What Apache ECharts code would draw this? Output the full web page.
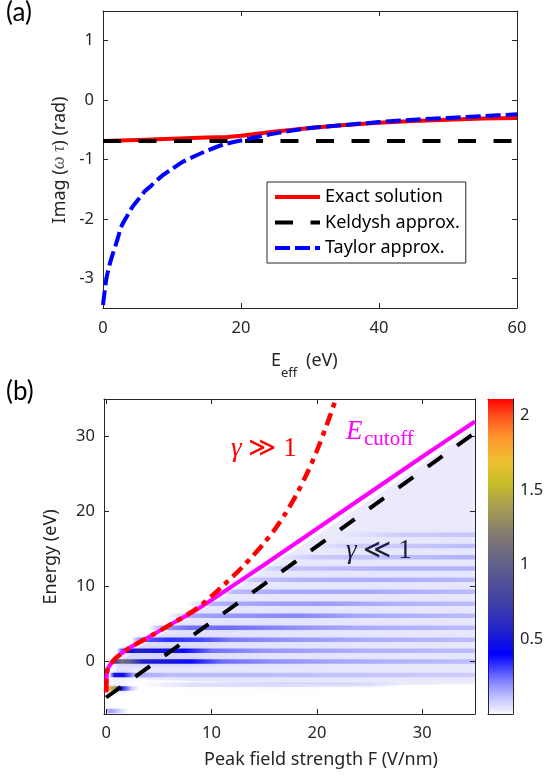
<!DOCTYPE html>
<html><head><meta charset="utf-8">
<script src="https://cdn.jsdelivr.net/npm/echarts@6/dist/echarts.min.js"></script>
<style>html,body{margin:0;padding:0;background:#fff}#c{width:549px;height:778px}</style>
</head><body><div id="c"></div><script>
// ---------------- Panel (a) data ----------------
const aTicksX = [0, 20, 40, 60];
const aTicksY = [-3, -2, -1, 0, 1];
const exactE = [0, 5, 10, 15, 18, 20, 25, 30, 35, 40, 45, 50, 55, 60];
const exactV = [-0.69, -0.67, -0.65, -0.63, -0.62, -0.60, -0.53, -0.47, -0.42, -0.38, -0.35, -0.33, -0.31, -0.30];
const keldyshE = [0, 60];
const keldyshV = [-0.69, -0.69];
const taylorE = [0, 0.5, 1, 1.5, 2, 2.7, 3.5, 4.2, 5, 6.1, 7, 8.5, 10, 11.4, 14.3, 17.4, 20, 25, 30, 35, 40, 45, 50, 55, 60];
const taylorV = [-3.45, -3.0, -2.75, -2.56, -2.38, -2.12, -1.95, -1.81, -1.69, -1.53, -1.44, -1.28, -1.16, -1.05, -0.89, -0.75, -0.68, -0.56, -0.47, -0.42, -0.37, -0.33, -0.30, -0.27, -0.24];

// ---------------- Panel (b) data ----------------
const bTicksX = [0, 10, 20, 30];
const bTicksY = [0, 10, 20, 30];
const cutoffF = [0, 0.02, 0.05, 0.15, 0.4, 0.8, 1.4, 2.2, 3.2, 4.6, 6.2, 8, 10, 15, 20, 25, 30, 35];
const cutoffE = [-4.1, -3, -2, -1, -0.4, 0.3, 1.0, 1.8, 2.6, 3.7, 5.0, 6.4, 8.2, 12.9, 17.7, 22.5, 27.3, 32.0];
const bigGammaF = [0, 0.02, 0.05, 0.15, 0.4, 0.8, 1.4, 2.2, 3.2, 4.6, 6.2, 8, 9, 10, 11, 12, 13, 14, 15, 16, 17, 18, 19, 20, 21, 21.8];
const bigGammaE = [-4.1, -3, -2, -1, -0.4, 0.3, 1.0, 1.8, 2.6, 3.7, 5.0, 6.5, 7.5, 8.7, 10.0, 11.3, 12.7, 14.2, 15.8, 17.6, 19.7, 22.1, 24.9, 28.1, 31.8, 35];
const smallGammaF = [0, 35];
const smallGammaE = [-4.8, 30.5];
// spectrogram fringes: [energy, F, value, F, value, ...]
const streaks = [
  [-6.6, 0, 0.12, 0.5, 0.15, 1.5, 0.04, 2.2, 0],
  [-3.6, 0, 0.4, 0.3, 1.75, 0.8, 1.4, 1.4, 0.45, 2.4, 0.08, 3.2, 0],
  [-3.1, 3, 0, 8, 0.04, 16, 0.05, 25, 0.02, 28, 0],
  [-1.8, 0.3, 0, 0.8, 0.5, 1.6, 0.45, 2.6, 0.12, 6, 0.08, 15, 0.08, 25, 0.06, 35, 0.04],
  [0, 0.4, 0, 0.8, 0.7, 1.5, 1.15, 2.5, 0.9, 3.5, 0.55, 6, 0.5, 8, 0.38, 11, 0.22, 16, 0.16, 22, 0.12, 30, 0.09, 35, 0.08],
  [1.45, 1.0, 0, 1.8, 0.42, 3, 0.55, 5, 0.5, 7.5, 0.38, 10, 0.22, 15, 0.15, 25, 0.1, 35, 0.08],
  [2.9, 2.4, 0, 3.5, 0.25, 6, 0.32, 9, 0.28, 12, 0.2, 18, 0.15, 25, 0.11, 35, 0.08],
  [4.5, 4, 0, 5.5, 0.15, 8, 0.22, 12, 0.22, 17, 0.17, 23, 0.12, 35, 0.08],
  [6.1, 5.8, 0, 8, 0.12, 12, 0.15, 18, 0.18, 24, 0.12, 35, 0.08],
  [7.7, 7.6, 0, 10, 0.1, 15, 0.13, 20, 0.14, 28, 0.1, 35, 0.08],
  [9.3, 9.5, 0, 12, 0.08, 17, 0.12, 24, 0.12, 35, 0.08],
  [10.9, 11.5, 0, 14, 0.06, 19, 0.1, 26, 0.11, 35, 0.09],
  [12.4, 13.5, 0, 17, 0.06, 22, 0.08, 28, 0.1, 35, 0.1],
  [13.9, 16, 0, 20, 0.05, 26, 0.07, 35, 0.1],
  [15.4, 19, 0, 24, 0.04, 30, 0.06, 35, 0.08],
  [16.9, 22, 0, 28, 0.04, 35, 0.06]
];
// faint background wash region (F, E vertices)
const washF = [1, 3, 6, 10, 15, 20, 25, 30, 35, 35, 25, 12, 4, 1];
const washE = [-0.5, 1.8, 4.3, 7.6, 12.2, 16.8, 21.5, 26.3, 31.2, -3, -3.2, -2.8, -2.4, -2];
// colour bar
const cbarMin = 0, cbarMax = 2.11;
const cbarTicks = [0.5, 1, 1.5, 2];

// ---------------- styling helpers ----------------
const FONT = 'Noto Sans';
const SERIF = 'Liberation Serif, DejaVu Serif';
const INK = '#262626';
const STREAK_H = 0.6;
const cmapStops = [[0.40,[0,0,255]],[0.55,[32,32,205]],[0.75,[64,64,165]],[1.0,[96,96,140]],[1.2,[130,122,112]],[1.4,[170,160,78]],[1.55,[200,190,40]],[1.7,[240,190,50]],[1.85,[255,150,45]],[2.0,[255,80,30]],[2.11,[255,0,0]]];
const alphaStops = [[0,0],[0.02,0.07],[0.1,0.22],[0.2,0.44],[0.3,0.72],[0.4,1]];
function lerp(a,b,t){return a+(b-a)*t;}
function interp(stops, v){
  if (v <= stops[0][0]) return stops[0][1];
  for (let i=1;i<stops.length;i++){
    if (v <= stops[i][0]) {
      const t=(v-stops[i-1][0])/(stops[i][0]-stops[i-1][0]);
      const a=stops[i-1][1], b=stops[i][1];
      return Array.isArray(a) ? a.map((x,k)=>lerp(x,b[k],t)) : lerp(a,b,t);
    }
  }
  return stops[stops.length-1][1];
}
function cmap(v){
  if (v < 0.4) { const a = interp(alphaStops, v); return 'rgba(0,0,255,' + a.toFixed(3) + ')'; }
  const c = interp(cmapStops, v).map(Math.round);
  return 'rgb(' + c.join(',') + ')';
}
const zip = (xs, ys) => xs.map((x,i)=>[x, ys[i]]);

function ax(grid, min, max, ticks, pos, showLabel, margin){
  return {gridIndex:grid, type:'value', min, max, position:pos,
    axisLine:{show:true, onZero:false, lineStyle:{color:INK, width:1}},
    axisTick:{show:ticks.length>0, inside:true, length:5, customValues:ticks, lineStyle:{color:INK}},
    axisLabel:{show:showLabel, customValues:ticks, color:INK, fontSize:16.5, fontFamily:FONT, margin:margin||10},
    splitLine:{show:false}};
}

const chart = echarts.init(document.getElementById('c'), null, {renderer:'canvas'});
const option = {
  animation:false,
  backgroundColor:'#fff',
  grid:[
    {left:103, top:11, width:414, height:297},
    {left:104, top:399, width:371, height:315},
    {left:488, top:399, width:25, height:315}
  ],
  xAxis:[
    ax(0, 0, 60, aTicksX, 'bottom', true, 12),
    ax(0, 0, 60, aTicksX, 'top', false),
    ax(1, -0.2, 35, bTicksX, 'bottom', true, 11),
    ax(1, -0.2, 35, bTicksX, 'top', false),
    ax(2, 0, 1, [], 'bottom', false),
    ax(2, 0, 1, [], 'top', false)
  ],
  yAxis:[
    ax(0, -3.5, 1.5, aTicksY, 'left', true, 9),
    ax(0, -3.5, 1.5, aTicksY, 'right', false),
    ax(1, -7, 35, bTicksY, 'left', true, 9),
    ax(1, -7, 35, bTicksY, 'right', false),
    ax(2, cbarMin, cbarMax, cbarTicks, 'right', true, 7),
    ax(2, cbarMin, cbarMax, [], 'left', false)
  ],
  legend:{
    data:['Exact solution','Keldysh approx.','Taylor approx.'],
    orient:'vertical', left:267, top:182, padding:[6,6,6,6],
    itemWidth:45, itemHeight:18, itemGap:7.5,
    backgroundColor:'#fff', borderColor:INK, borderWidth:1,
    itemStyle:{opacity:0},
    lineStyle:{width:4},
    textStyle:{fontSize:18, fontFamily:FONT, color:'#000'}
  },
  series:[
    {name:'Exact solution', type:'line', xAxisIndex:0, yAxisIndex:0, symbol:'none',
     data:zip(exactE, exactV), lineStyle:{color:'#ff0000', width:4}, itemStyle:{color:'#ff0000'}, z:2},
    {name:'Keldysh approx.', type:'line', xAxisIndex:0, yAxisIndex:0, symbol:'none',
     data:zip(keldyshE, keldyshV), lineStyle:{color:'#000', width:4, type:[18,17.5]}, itemStyle:{color:'#000'}, z:3},
    {name:'Taylor approx.', type:'line', xAxisIndex:0, yAxisIndex:0, symbol:'none', smooth:0.3,
     data:zip(taylorE, taylorV), lineStyle:{color:'#0000ff', width:4, type:[15,5]}, itemStyle:{color:'#0000ff'}, z:4},

    {type:'custom', xAxisIndex:2, yAxisIndex:2, clip:true, z:1, silent:true,
     data:[[washF[0], washE[0]]],
     renderItem:function(params, api){
       const pts = washF.map((f,i)=>api.coord([f, washE[i]]));
       return {type:'polygon', shape:{points:pts},
         style:{fill:'rgba(80,80,230,0.1)', shadowBlur:10, shadowColor:'rgba(80,80,230,0.14)'}};
     }},
    {type:'custom', xAxisIndex:2, yAxisIndex:2, clip:true, z:2, silent:true,
     data:streaks.map(s=>[s[1], s[0]]),
     renderItem:function(params, api){
       const s = streaks[params.dataIndex];
       const E = s[0];
       const pts = [];
       for (let k=1;k<s.length;k+=2) pts.push([s[k], s[k+1]]);
       const F0 = pts[0][0], F1 = pts[pts.length-1][0];
       const a = api.coord([F0, E + STREAK_H/2]);
       const b = api.coord([F1, E - STREAK_H/2]);
       const stops = pts.map(p=>({offset:(p[0]-F0)/(F1-F0), color:cmap(p[1])}));
       return {type:'rect', shape:{x:a[0], y:a[1], width:b[0]-a[0], height:b[1]-a[1]},
         style:{fill:new echarts.graphic.LinearGradient(0,0,1,0,stops), shadowBlur:6, shadowColor:'rgba(40,40,255,0.3)'}};
     }},
    {type:'line', xAxisIndex:2, yAxisIndex:2, symbol:'none', z:3,
     data:zip(smallGammaF, smallGammaE), lineStyle:{color:'#000', width:4, type:[18,18]}},
    {type:'line', xAxisIndex:2, yAxisIndex:2, symbol:'none', smooth:0.2, z:4,
     data:zip(cutoffF, cutoffE), lineStyle:{color:'#ff00ff', width:4}},
    {type:'line', xAxisIndex:2, yAxisIndex:2, symbol:'none', smooth:0.3, z:5,
     data:zip(bigGammaF, bigGammaE), lineStyle:{color:'#ff0000', width:4.5, type:[13,6,5,6]}},

    {type:'custom', xAxisIndex:4, yAxisIndex:4, z:1, silent:true,
     data:[[0, cbarMax]],
     renderItem:function(params, api){
       const a = api.coord([0, cbarMax]);
       const b = api.coord([1, cbarMin]);
       const vs = [0, 0.02, 0.1, 0.2, 0.3, 0.4, 0.55, 0.75, 1.0, 1.2, 1.4, 1.55, 1.7, 1.85, 2.0, 2.11];
       const stops = vs.map(v=>({offset:1 - (v - cbarMin)/(cbarMax - cbarMin), color:cmap(v)}));
       return {type:'rect', shape:{x:a[0], y:a[1], width:b[0]-a[0], height:b[1]-a[1]},
         style:{fill:new echarts.graphic.LinearGradient(0,0,0,1,stops)}};
     }}
  ],
  graphic:[
    {type:'text', left:6, top:0, style:{text:'(a)', font:'26px Lato', fill:'#000'}},
    {type:'text', left:6, top:379, style:{text:'(b)', font:'26px Lato', fill:'#000'}},
    {type:'text', x:59.5, y:160, rotation:Math.PI/2,
     style:{text:'{a|Imag (}{m|ω τ}{a|) (rad)}', align:'center', verticalAlign:'middle',
       rich:{a:{fontSize:18, fontFamily:FONT, fill:INK}, m:{fontSize:18, fontFamily:SERIF, fontStyle:'italic', fill:'#555'}}}},
    {type:'text', x:271, y:361, style:{text:'E', font:'18px "Noto Sans"', fill:INK, verticalAlign:'middle'}},
    {type:'text', x:281, y:373, style:{text:'eff', font:'13px "Noto Sans"', fill:INK, verticalAlign:'middle'}},
    {type:'text', x:306, y:361, style:{text:'(eV)', font:'18px "Noto Sans"', fill:INK, verticalAlign:'middle'}},
    {type:'text', x:51, y:557, rotation:Math.PI/2,
     style:{text:'Energy (eV)', align:'center', verticalAlign:'middle', font:'18px "Noto Sans"', fill:INK}},
    {type:'text', x:321, y:760,
     style:{text:'Peak field strength F (V/nm)', align:'center', verticalAlign:'middle', font:'18px "Noto Sans"', fill:INK}},
    {type:'text', x:231, y:449,
     style:{text:'{g|γ}{r| ≫ 1}', verticalAlign:'middle',
       rich:{g:{fontSize:27, fontFamily:SERIF, fontStyle:'italic', fill:'#ff0000'}, r:{fontSize:27, fontFamily:SERIF, fill:'#ff0000'}}}},
    {type:'text', x:346, y:432, style:{text:'E', font:'italic 27px "Liberation Serif"', fill:'#ff00ff', verticalAlign:'middle'}},
    {type:'text', x:364, y:439, style:{text:'cutoff', font:'21px "Liberation Serif"', fill:'#ff00ff', verticalAlign:'middle'}},
    {type:'text', x:346, y:551,
     style:{text:'{g|γ}{r| ≪ 1}', verticalAlign:'middle',
       rich:{g:{fontSize:27, fontFamily:SERIF, fontStyle:'italic', fill:'#1a1a1a'}, r:{fontSize:27, fontFamily:SERIF, fill:'#1a1a1a'}}}}
  ]
};
chart.setOption(option);
</script></body></html>
